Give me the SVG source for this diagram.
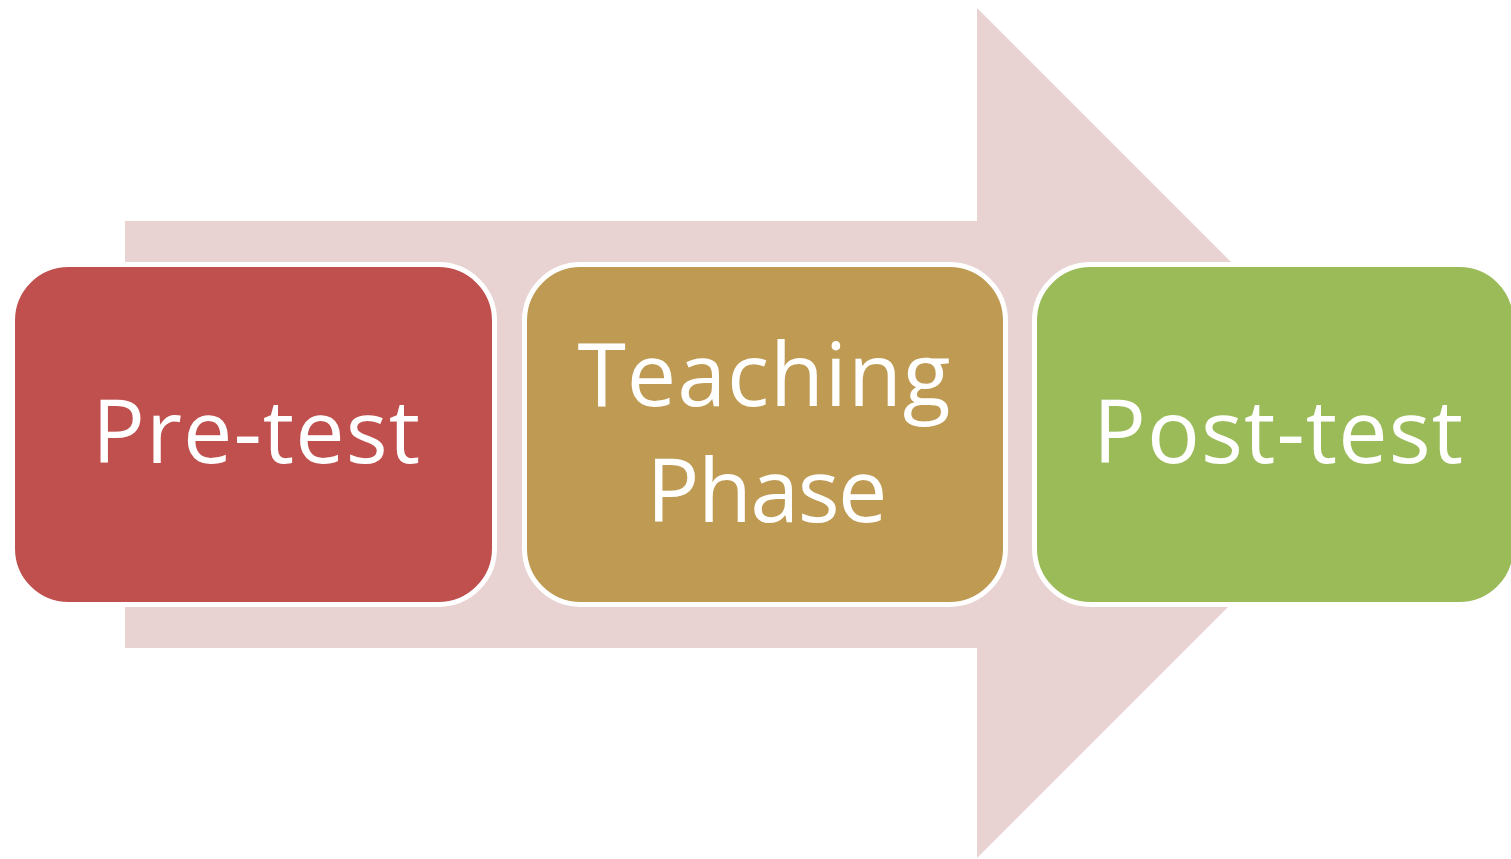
<svg xmlns="http://www.w3.org/2000/svg" width="1511" height="859" viewBox="0 0 1511 859">
  <style>
    .box { stroke: #FFFFFF; stroke-width: 5; }
    .label { font-family: "Open Sans", "Noto Sans", "Liberation Sans", sans-serif; font-size: 88px; fill: #FFFFFF; text-anchor: middle; }
  </style>
  <rect width="1511" height="859" fill="#FFFFFF"/>
  <!-- background process arrow -->
  <g id="connectors">
    <polygon points="125,221 977,221 977,8 1402,433 977,858 977,648 125,648" fill="#E8D2D2"/>
  </g>
  <g id="pretest">
    <rect class="box" x="12.5" y="264.5" width="482" height="340" rx="56" ry="56" fill="#C0504D"/>
    <text class="label" x="256" y="463" textLength="328" lengthAdjust="spacing">Pre-test</text>
  </g>
  <g id="teaching">
    <rect class="box" x="524.5" y="264.5" width="481" height="340" rx="56" ry="56" fill="#BE9A52"/>
    <text class="label" x="764" y="406" textLength="373" lengthAdjust="spacing">Teaching</text>
    <text class="label" x="767" y="522" textLength="241" lengthAdjust="spacing">Phase</text>
  </g>
  <g id="posttest">
    <rect class="box" x="1034.5" y="264.5" width="481" height="340" rx="56" ry="56" fill="#9BBB59"/>
    <text class="label" x="1278" y="463" textLength="370" lengthAdjust="spacing">Post-test</text>
  </g>
</svg>
